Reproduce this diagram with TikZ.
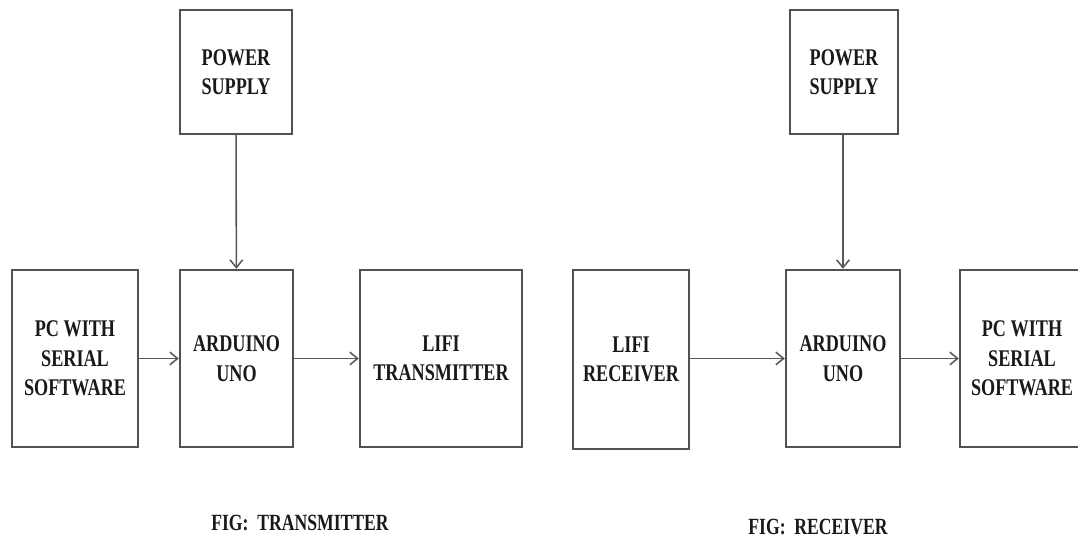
\documentclass[tikz,border=0pt]{standalone}
\usepackage{fontspec}
\setmainfont{Liberation Serif}[FakeStretch=0.76]
\usetikzlibrary{arrows.meta,positioning}

\begin{document}
\begin{tikzpicture}[
          x=0.025cm, y=-0.025cm,
          blk/.style={draw=black!68, line width=1.7pt, align=center,
            font=\fontsize{17}{21}\selectfont\bfseries, text=black!90,
            minimum height=4.425cm, inner sep=0pt},
          pwr/.style={blk, minimum height=3.1cm},
          link/.style={-{Straight Barb[length=5.5pt,width=9pt]}, draw=black!65, line width=1.1pt},
          figcap/.style={font=\fontsize{16.5}{19}\selectfont\bfseries, text=black!90}
        ]
        \useasboundingbox (0,0) rectangle (1078,539);
        % transmitter side
        \node[blk, minimum width=3.15cm]  (pctx)   at (75,358.5)  {PC WITH\\SERIAL\\SOFTWARE};
        \node[blk, minimum width=2.825cm] (ardtx)  at (236.5,358.5) {ARDUINO\\UNO};
        \node[pwr, minimum width=2.8cm]   (pwrtx)  at (236,72)    {POWER\\SUPPLY};
        \node[blk, minimum width=4.05cm]  (lifitx) at (441,358.5) {LIFI\\TRANSMITTER};

        \draw[link] (pctx) -- (ardtx);
        \draw[link] (ardtx) -- (lifitx);
        \draw[link] (pwrtx) -- (ardtx);

        % receiver side
        \node[blk, minimum width=2.9cm, minimum height=4.475cm] (lifirx) at (631,359.5) {LIFI\\RECEIVER};
        \node[blk, minimum width=2.85cm]  (ardrx)  at (843,358.5) {ARDUINO\\UNO};
        \node[pwr, minimum width=2.7cm]   (pwrrx)  at (844,72)    {POWER\\SUPPLY};
        \node[blk, minimum width=3.1cm]   (pcrx)   at (1022,358.5) {PC WITH\\SERIAL\\SOFTWARE};

        \draw[link] (lifirx.east |- ardrx.west) -- (ardrx.west);
        \draw[link] (ardrx) -- (pcrx);
        \draw[link] (pwrrx.south -| ardrx.north) -- (ardrx.north);

        \node[figcap] (captx) at (300,523) {FIG:\ \ TRANSMITTER};
        \node[figcap] (caprx) at (818,527) {FIG:\ \ RECEIVER};
      \end{tikzpicture}
\end{document}
